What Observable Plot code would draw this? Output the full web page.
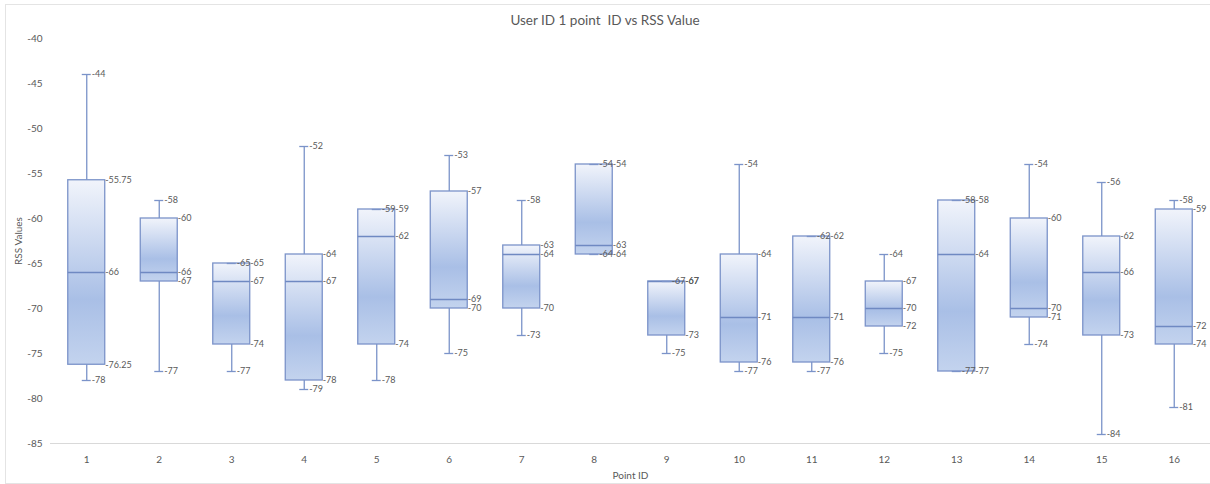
<!DOCTYPE html>
<html>
<head>
<meta charset="utf-8">
<script src="https://cdn.jsdelivr.net/npm/d3@7"></script>
<script src="https://cdn.jsdelivr.net/npm/@observablehq/plot@0.6"></script>
<style>
  html, body { margin: 0; padding: 0; background: #fff; overflow: hidden; }
  #wrap { position: relative; width: 1210px; height: 484px; }
  #frame { position: absolute; left: 5px; top: 4px; width: 1205px; height: 480px; border: 1px solid #e4e4e4; border-right: none; box-sizing: border-box; pointer-events: none; }
  #title { position: absolute; left: 0; width: 1210px; top: 12px; text-align: center; font-family: Lato, "Open Sans", sans-serif; font-size: 13.5px; color: #595959; }
</style>
</head>
<body>
<div id="wrap">
  <div id="chart"></div>
  <div id="frame"></div>
  <div id="title">User ID 1 point&nbsp; ID vs RSS Value</div>
</div>
<script>
const pointIds = ["1","2","3","4","5","6","7","8","9","10","11","12","13","14","15","16"];
const minVals    = [-78, -77, -77, -79, -78, -75, -73, -64, -75, -77, -77, -75, -77, -74, -84, -81];
const q1Vals     = [-76.25, -67, -74, -78, -74, -70, -70, -64, -73, -76, -76, -72, -77, -71, -73, -74];
const medianVals = [-66, -66, -67, -67, -62, -69, -64, -63, -67, -71, -71, -70, -64, -70, -66, -72];
const q3Vals     = [-55.75, -60, -65, -64, -59, -57, -63, -54, -67, -64, -62, -67, -58, -60, -62, -59];
const maxVals    = [-44, -58, -65, -52, -59, -53, -58, -54, -67, -54, -62, -64, -58, -54, -56, -58];
const yTicks = [-40, -45, -50, -55, -60, -65, -70, -75, -80, -85];

const rows = pointIds.map((id, i) => ({
  id, min: minVals[i], q1: q1Vals[i], median: medianVals[i], q3: q3Vals[i], max: maxVals[i]
}));
const whiskerLabels = rows.flatMap(r => [{id: r.id, v: r.max}, {id: r.id, v: r.min}]);
const boxLabels = rows.flatMap(r => [{id: r.id, v: r.q3}, {id: r.id, v: r.median}, {id: r.id, v: r.q1}]);

const stroke = "#7b93c9";
const fmt = v => String(v);

const chart = Plot.plot({
  width: 1210,
  height: 484,
  marginLeft: 50,
  marginRight: 0,
  marginTop: 38,
  marginBottom: 41,
  style: { fontFamily: "Lato, 'Open Sans', sans-serif", fontSize: "10px", color: "#595959", background: "transparent", overflow: "visible" },
  x: { type: "band", domain: pointIds, paddingInner: 0.49, paddingOuter: 0.245, align: 0.5, round: false },
  y: { domain: [-85, -40], ticks: yTicks },
  marks: [
    Plot.ruleY([-85], { stroke: "#d9d9d9" }),
    Plot.axisY({ ticks: yTicks, tickSize: 0, tickPadding: 8, tickFormat: d => String(d), fill: "#595959", fontSize: 10, label: "RSS Values", labelAnchor: "center", labelArrow: "none", labelOffset: 36 }),
    Plot.axisX({ tickSize: 0, tickPadding: 12, fill: "#595959", fontSize: 10, label: "Point ID", labelAnchor: "center", labelArrow: "none", labelOffset: 35 }),
    Plot.ruleX(rows, { x: "id", y1: "min", y2: "max", stroke, strokeWidth: 1.3 }),
    Plot.barY(rows, { x: "id", y1: "q1", y2: "q3", fill: "url(#boxgrad)", stroke, strokeWidth: 1.3 }),
    Plot.tickY(rows, { x: "id", y: "median", stroke: "#6f89c2", strokeWidth: 1.3 }),
    Plot.tickY(rows, { x: "id", y: "max", stroke, strokeWidth: 1.3, insetLeft: 14, insetRight: 14 }),
    Plot.tickY(rows, { x: "id", y: "min", stroke, strokeWidth: 1.3, insetLeft: 14, insetRight: 14 }),
    Plot.text(whiskerLabels, { x: "id", y: "v", text: d => fmt(d.v), dx: 5, textAnchor: "start", fill: "#595959", fontSize: 9, letterSpacing: "-0.2px" }),
    Plot.text(boxLabels, { x: "id", y: "v", text: d => fmt(d.v), dx: 18.5, textAnchor: "start", fill: "#595959", fontSize: 9, letterSpacing: "-0.2px" })
  ]
});

// gradient definition for the boxes
const ns = "http://www.w3.org/2000/svg";
const defs = document.createElementNS(ns, "defs");
defs.innerHTML = `<linearGradient id="boxgrad" x1="0" y1="0" x2="0" y2="1">
  <stop offset="0%" stop-color="#f1f4fb"/>
  <stop offset="65%" stop-color="#a9bfe6"/>
  <stop offset="100%" stop-color="#c3d3ee"/>
</linearGradient>`;
chart.insertBefore(defs, chart.firstChild);
document.getElementById("chart").appendChild(chart);
</script>
</body>
</html>
